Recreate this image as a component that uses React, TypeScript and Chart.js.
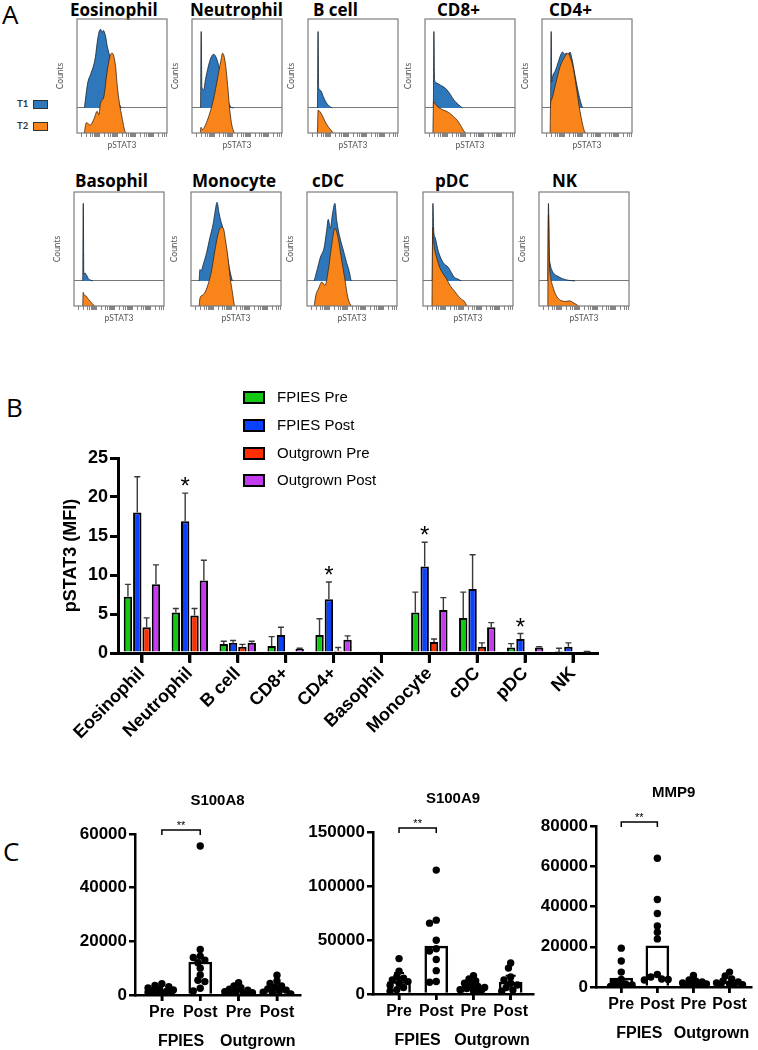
import React, { useEffect, useRef } from 'react';
import { Chart, registerables } from 'chart.js';

Chart.register(...registerables);

const SANS = '"Liberation Sans", Arial, Helvetica, sans-serif';
const OPEN = '"Open Sans", "Liberation Sans", sans-serif';
const LATO = 'Lato, "Liberation Sans", sans-serif';

/* ---------------- Panel A: pSTAT3 offset histograms ---------------- */
const HIST_CELLS = ['Eosinophil', 'Neutrophil', 'B cell', 'CD8+', 'CD4+', 'Basophil', 'Monocyte', 'cDC', 'pDC', 'NK'];
const HIST_SERIES = ['T1', 'T2'];
const HIST_AXIS_X = 'pSTAT3';
const HIST_AXIS_Y = 'Counts';
const HIST_OFFSET = 22; // T1 trace is drawn on an offset baseline
// [pSTAT3 position (% of axis), counts (% of frame height)]
const EOS_T1 = [[8.2, 0], [9.3, 7], [11.9, 22], [14.9, 29], [18.7, 38], [20.5, 45], [22.4, 57], [24.3, 66], [26.1, 69], [28, 66], [29.1, 68], [31.7, 63], [33.6, 54], [37.3, 42], [41, 22], [44.8, 7], [49.3, 0]];
const EOS_T2 = [[8.2, 0], [8.5, 2], [10.4, 9], [14.9, 7], [18.7, 12], [22.4, 19], [24.3, 16], [26.1, 26], [29.9, 32], [32.8, 50], [35.4, 63], [37.3, 69], [39.2, 70], [41, 67], [42.9, 58], [44.8, 41], [46.6, 29], [50.4, 12], [53, 2], [54.1, 0]];
const NEU_T1 = [[9.5, 0], [10.2, 67], [11, 18], [13, 16], [15, 25], [18, 36], [21, 44], [24, 47], [27, 44], [30, 36], [34, 23], [38, 10], [43, 1], [46, 0]];
const NEU_T2 = [[9.2, 0], [10, 5], [11.5, 3], [13, 4], [16, 9], [20, 18], [24, 30], [27, 42], [30, 55], [32, 63], [34, 70], [36, 66], [38, 55], [40, 38], [42, 20], [44, 8], [46, 2], [47, 0]];
const BCELL_T1 = [[10.5, 0], [11.2, 67], [11.8, 18], [13, 16], [15, 14], [17, 10], [20, 5], [23, 2], [27, 0]];
const BCELL_T2 = [[10.5, 0], [11.2, 20], [13, 19], [16, 15], [19, 10], [22, 6], [25, 3], [28, 0]];
const CD8_T1 = [[9.3, 0], [9.9, 67], [10.6, 25], [12.4, 22], [17, 20], [23, 17], [28, 12], [32, 7], [37, 3], [41.6, 0]];
const CD8_T2 = [[8.8, 0], [9.5, 28], [10.2, 27], [13, 24], [18, 21], [24, 19], [28, 17], [32, 14], [36, 11], [40, 6], [43, 2], [45, 0]];
const CD4_T1 = [[9.5, 0], [10.2, 67], [10.8, 23], [12, 28], [15, 33], [18, 40], [21, 47], [23, 49], [25, 47], [27, 48], [29, 46], [31, 49], [33, 44], [38, 23], [42, 8], [45, 0]];
const CD4_T2 = [[9, 0], [9.5, 25], [10.5, 29], [14.5, 41], [20, 58], [25.5, 67], [29, 70], [31, 67], [34.5, 58], [38, 41], [42, 20], [45, 8], [47, 2], [48.5, 0]];
const BASO_T1 = [[9.7, 0], [10.3, 68], [10.9, 6], [12, 7], [14, 5], [16, 2], [19, 0.5], [21, 0]];
const BASO_T2 = [[9.7, 0], [10.2, 12], [11, 10], [13, 9], [16, 6], [19, 3], [23, 0]];
const MONO_T1 = [[9, 0], [10, 10], [11.2, 9], [13.8, 15], [17.4, 25], [21, 38], [24.6, 50], [26.4, 59], [29, 69], [31, 60], [33, 53], [35.5, 46], [38, 33], [41, 18], [44, 6], [46, 0]];
const MONO_T2 = [[9, 0], [10, 7], [13.8, 10], [19, 19], [22.8, 31], [26.4, 48], [30, 63], [33.7, 69], [36, 68], [38.4, 57], [41, 43], [43.5, 25], [46.4, 10], [48, 1.5], [48.6, 0]];
const CDC_T1 = [[8, 0], [11, 9], [15, 21], [19, 29], [21.8, 44], [23.6, 54], [26, 46], [28, 57], [31, 68], [33, 53], [36, 40], [40, 28], [44, 16], [47, 8], [49, 0]];
const CDC_T2 = [[8, 0], [10, 10], [12.7, 15], [16.4, 21], [20, 18], [23.6, 31], [27, 51], [31, 68], [34.5, 60], [38, 43], [41.8, 25], [45.5, 7], [49, 0]];
const PDC_T1 = [[10.3, 0], [11, 68], [12, 43], [13.5, 38], [17, 26], [22.5, 16], [28, 12], [35, 3], [38, 2], [42.5, 0]];
const PDC_T2 = [[10, 0], [10.8, 69], [12, 55], [15, 43], [19, 33], [22.5, 28], [26, 24], [30, 18], [35, 13], [40, 8], [42.5, 6], [46, 4], [48.7, 0]];
const NK_T1 = [[9.8, 0], [10.5, 68], [11.5, 23], [12.4, 15], [14, 10], [17, 6], [21, 4], [26, 2], [33, 0.5], [40, 0]];
const NK_T2 = [[9.8, 0], [10.5, 80], [11.5, 40], [13, 25], [15, 18], [17, 13], [20, 8], [24, 5], [30, 4], [34, 4.5], [38, 3], [44, 0]];
const HIST_T1 = [EOS_T1, NEU_T1, BCELL_T1, CD8_T1, CD4_T1, BASO_T1, MONO_T1, CDC_T1, PDC_T1, NK_T1];
const HIST_T2 = [EOS_T2, NEU_T2, BCELL_T2, CD8_T2, CD4_T2, BASO_T2, MONO_T2, CDC_T2, PDC_T2, NK_T2];
const HIST_DECADES = [0, 1, 2, 3, 4];
const HIST_MINOR = [1, 2, 3, 4, 5, 6, 7, 8, 9];

/* ---------------- Panel B: pSTAT3 MFI ---------------- */
const CELL_TYPES = ['Eosinophil', 'Neutrophil', 'B cell', 'CD8+', 'CD4+', 'Basophil', 'Monocyte', 'cDC', 'pDC', 'NK'];
const B_SERIES_NAMES = ['FPIES Pre', 'FPIES Post', 'Outgrown Pre', 'Outgrown Post'];
const FPIES_PRE = [7.2, 5.2, 1.15, 0.9, 2.3, 0, 5.2, 4.5, 0.7, 0.1];
const FPIES_PRE_ERR = [8.8, 5.7, 1.5, 2.1, 4.4, 0, 7.8, 7.8, 1.2, 0.6];
const FPIES_POST = [18.0, 16.9, 1.3, 2.3, 6.9, 0, 11.1, 8.2, 1.8, 0.8];
const FPIES_POST_ERR = [22.6, 20.5, 1.6, 3.3, 9.1, 0, 14.2, 12.6, 2.5, 1.3];
const OUT_PRE = [3.3, 4.8, 0.8, 0, 0.3, 0, 1.4, 0.8, 0, 0];
const OUT_PRE_ERR = [4.5, 5.7, 1.1, 0, 0.7, 0, 1.8, 1.3, 0, 0];
const OUT_POST = [8.8, 9.3, 1.3, 0.5, 1.7, 0, 5.5, 3.3, 0.7, 0.05];
const OUT_POST_ERR = [11.3, 11.9, 1.5, 0.6, 2.2, 0, 7.1, 3.9, 0.8, 0.2];
const POST_SIGNIF = ['', '*', '', '', '*', '', '*', '', '*', ''];
const B_Y_TITLE = 'pSTAT3 (MFI)';

/* ---------------- Panel C: serum proteins ---------------- */
const C_CATEGORIES = ['Pre', 'Post', 'Pre', 'Post'];
const C_GROUPS = ['FPIES', 'Outgrown'];
const C_BRACKET_LABEL = '**';
const S100A8_MEAN = [2000, 12300, 1600, 2600];
const S100A8_ERR = [null, null, null, 3600];
const S100A8_POINTS = [
  [4200, 3600, 3100, 2600, 2200, 1900, 1600, 1300, 1000, 700, 500, 300],
  [55500, 17000, 14500, 14000, 13000, 12000, 10000, 7500, 5500, 5000, 2500, 1500],
  [4600, 3400, 2700, 2200, 1800, 1500, 1200, 900, 700, 500, 300],
  [7400, 5200, 4300, 3400, 2800, 2300, 1800, 1400, 1000, 700, 400],
];
const S100A9_MEAN = [11600, 44400, 7000, 11000];
const S100A9_ERR = [19500, null, null, 17000];
const S100A9_POINTS = [
  [32800, 21000, 16000, 14700, 13100, 11500, 10000, 8000, 6000, 4000, 2500],
  [114700, 68400, 65600, 49700, 41900, 39700, 31900, 21600, 11600, 10900],
  [17000, 14000, 12000, 10000, 8500, 7000, 6000, 5000, 4000, 3000, 2000],
  [28700, 24000, 15700, 13000, 10000, 8300, 6000, 3700, 2500],
];
const MMP9_MEAN = [4400, 20500, 2000, 2700];
const MMP9_ERR = [null, null, null, null];
const MMP9_POINTS = [
  [19300, 12900, 7400, 3700, 2500, 1500, 1000, 600, 300, 100],
  [64000, 43500, 36500, 30300, 27200, 23900, 6200, 5000, 4000, 3700, 3500],
  [5700, 3500, 3000, 2500, 2000, 1500, 1000, 800, 500, 300],
  [7400, 5500, 4000, 3000, 2500, 2000, 1500, 1200, 800, 500],
];

/* ---------------- styling ---------------- */
const BLUE_T1 = '#2e77ba';
const ORANGE_T2 = '#f98419';
const B_COLORS = ['#12c812', '#0a40ff', '#ff2e00', '#c43cf0'];

const HIST_TICK_POS: number[] = [];
HIST_DECADES.forEach((d) => HIST_MINOR.forEach((k) => {
  const p = 5 + (d + Math.log10(k)) * 20;
  if (p <= 99.5) HIST_TICK_POS.push(p);
}));

const framePlugin = {
  id: 'frame',
  afterDatasetsDraw(chart: any) {
    const { ctx, chartArea } = chart;
    ctx.save();
    ctx.strokeStyle = '#7c7c7c';
    ctx.lineWidth = 1.2;
    ctx.strokeRect(chartArea.left, chartArea.top, chartArea.right - chartArea.left, chartArea.bottom - chartArea.top);
    ctx.restore();
  },
};

function histConfig(idx: number): any {
  const t1 = HIST_T1[idx];
  const t2 = HIST_T2[idx];
  return {
    type: 'line',
    data: {
      datasets: [
        {
          label: HIST_SERIES[1],
          data: t2.map(([x, y]) => ({ x, y })),
          borderColor: '#3a2412', borderWidth: 0.8,
          backgroundColor: ORANGE_T2, fill: 'origin',
          pointRadius: 0, cubicInterpolationMode: 'monotone',
        },
        {
          label: HIST_SERIES[0],
          data: t1.map(([x, y]) => ({ x, y: y + HIST_OFFSET })),
          borderColor: '#18232e', borderWidth: 0.8,
          backgroundColor: BLUE_T1, fill: { value: HIST_OFFSET },
          pointRadius: 0, cubicInterpolationMode: 'monotone',
        },
      ],
    },
    options: {
      animation: false, responsive: false, maintainAspectRatio: false, events: [],
      layout: { padding: { top: 2, right: 2, left: 0, bottom: 0 } },
      plugins: { legend: { display: false }, tooltip: { enabled: false } },
      scales: {
        x: {
          type: 'linear', min: 0, max: 100,
          afterBuildTicks: (a: any) => { a.ticks = HIST_TICK_POS.map((v) => ({ value: v })); },
          ticks: { display: false },
          grid: { drawOnChartArea: false, tickLength: 4, color: '#666', lineWidth: 0.8 },
          border: { display: false },
          title: { display: true, text: HIST_AXIS_X, color: '#555', font: { family: LATO, size: 8.5 }, padding: 0 },
          afterFit: (a: any) => { a.height = 17; },
        },
        y: {
          type: 'linear', min: 0, max: 100,
          afterBuildTicks: (a: any) => { a.ticks = [{ value: HIST_OFFSET }]; },
          ticks: { display: false },
          grid: { color: '#777', lineWidth: 1, drawTicks: false },
          border: { display: false },
          title: { display: true, text: HIST_AXIS_Y, color: '#555', font: { family: LATO, size: 8.5 }, padding: 0 },
          afterFit: (a: any) => { a.width = 22; },
        },
      },
    },
    plugins: [framePlugin],
  };
}

const B_VALUES = [FPIES_PRE, FPIES_POST, OUT_PRE, OUT_POST];
const B_ERRS = [FPIES_PRE_ERR, FPIES_POST_ERR, OUT_PRE_ERR, OUT_POST_ERR];

/* draws category tick marks explicitly below an axis */
function drawAxisTicks(ctx: any, scale: any, values: number[], len: number, width: number) {
  ctx.save();
  ctx.strokeStyle = '#000';
  ctx.lineWidth = width;
  ctx.beginPath();
  values.forEach((v) => {
    const x = scale.getPixelForValue(v);
    ctx.moveTo(x, scale.top);
    ctx.lineTo(x, scale.top + len);
  });
  ctx.stroke();
  ctx.restore();
}

const barErrorPlugin = {
  id: 'barErrors',
  afterDatasetsDraw(chart: any) {
    const { ctx } = chart;
    const ys = chart.scales.y;
    ctx.save();
    ctx.strokeStyle = '#3a3a3a';
    ctx.lineWidth = 1.4;
    B_VALUES.forEach((vals, i) => {
      const meta = chart.getDatasetMeta(i);
      meta.data.forEach((el: any, j: number) => {
        const top = B_ERRS[i][j];
        if (!(top > vals[j])) return;
        const yt = ys.getPixelForValue(top);
        ctx.beginPath();
        ctx.moveTo(el.x, el.y);
        ctx.lineTo(el.x, yt);
        ctx.moveTo(el.x - 3, yt);
        ctx.lineTo(el.x + 3, yt);
        ctx.stroke();
      });
    });
    ctx.fillStyle = '#000';
    ctx.font = `24px ${SANS}`;
    ctx.textAlign = 'center';
    ctx.textBaseline = 'alphabetic';
    const meta = chart.getDatasetMeta(1);
    POST_SIGNIF.forEach((s, j) => {
      if (!s) return;
      const el = meta.data[j];
      const yt = ys.getPixelForValue(FPIES_POST_ERR[j]);
      ctx.fillText(s, el.x, yt + 1);
    });
    ctx.restore();
    drawAxisTicks(ctx, chart.scales.x, CELL_TYPES.map((_, i) => i), 10, 3);
  },
};

function barConfig(): any {
  return {
    type: 'bar',
    data: {
      labels: CELL_TYPES,
      datasets: B_VALUES.map((vals, i) => ({
        label: B_SERIES_NAMES[i],
        data: vals,
        backgroundColor: B_COLORS[i],
        borderColor: '#000',
        borderWidth: 2,
        categoryPercentage: 0.78,
        barPercentage: 0.9,
      })),
    },
    options: {
      animation: false, responsive: false, maintainAspectRatio: false, events: [],
      layout: { padding: { top: 18, right: 23, left: 0, bottom: 0 } },
      plugins: { legend: { display: false }, tooltip: { enabled: false } },
      scales: {
        x: {
          grid: { offset: false, drawOnChartArea: false, tickLength: 9, lineWidth: 3, color: '#000' },
          border: { width: 3, color: '#000' },
          ticks: { minRotation: 45, maxRotation: 45, autoSkip: false, color: '#000', padding: 1, font: { family: SANS, size: 18, weight: 'bold' } },
          afterFit: (a: any) => { a.height = 97; },
        },
        y: {
          min: 0, max: 25,
          ticks: { stepSize: 5, color: '#000', padding: 2, font: { family: SANS, size: 18, weight: 'bold' } },
          grid: { drawOnChartArea: false, tickLength: 8, lineWidth: 3, color: '#000' },
          border: { width: 3, color: '#000' },
          title: { display: true, text: B_Y_TITLE, color: '#000', font: { family: SANS, size: 18, weight: 'bold' }, padding: { top: 60, bottom: 0 } },
          afterFit: (a: any) => { a.width = 118; },
        },
      },
    },
    plugins: [barErrorPlugin],
  };
}

/* beeswarm-style horizontal spreading of dots (layout only) */
function swarm(values: number[], max: number): number[] {
  const pxPerUnitX = 38;
  const pxPerVal = 161 / max;
  const placed: { x: number; y: number }[] = [];
  const res = new Array(values.length).fill(0);
  const order = values.map((_, i) => i).sort((a, b) => values[b] - values[a]);
  for (const i of order) {
    const y = values[i] * pxPerVal;
    let chosen = 0;
    let bestD = -1;
    for (let k = 0; k < 13; k++) {
      const off = k === 0 ? 0 : (k % 2 ? -1 : 1) * Math.ceil(k / 2) * 0.06;
      const xp = off * pxPerUnitX;
      const d = placed.length ? Math.min(...placed.map((p) => (p.x - xp) ** 2 + (p.y - y) ** 2)) : 1e9;
      if (d >= 30) { chosen = off; bestD = d; break; }
      if (d > bestD) { bestD = d; chosen = off; }
    }
    placed.push({ x: chosen * pxPerUnitX, y });
    res[i] = chosen;
  }
  return res;
}

const C_XMIN = -0.7;
const C_XMAX = 3.6;

function dotConfig(title: string, max: number, step: number, means: number[], errs: (number | null)[], points: number[][], yWidth: number, padTop: number, padRight: number): any {
  const pts: { x: number; y: number }[] = [];
  points.forEach((vals, g) => {
    const offs = swarm(vals, max);
    vals.forEach((v, i) => pts.push({ x: g + offs[i], y: v }));
  });
  const plugin = {
    id: 'dotExtras',
    afterDatasetsDraw(chart: any) {
      const { ctx, chartArea } = chart;
      const xs = chart.scales.x;
      const ys = chart.scales.y;
      ctx.save();
      // error bars
      ctx.strokeStyle = '#000';
      ctx.lineWidth = 2;
      means.forEach((m, i) => {
        const e = errs[i];
        if (e == null) return;
        const x = xs.getPixelForValue(i);
        const y0 = ys.getPixelForValue(m);
        const y1 = ys.getPixelForValue(e);
        ctx.beginPath();
        ctx.moveTo(x, y0); ctx.lineTo(x, y1);
        ctx.moveTo(x - 5, y1); ctx.lineTo(x + 5, y1);
        ctx.stroke();
      });
      // significance bracket
      const x0 = xs.getPixelForValue(0);
      const x1 = xs.getPixelForValue(1);
      const yl = chartArea.top - 4;
      ctx.lineWidth = 1.5;
      ctx.beginPath();
      ctx.moveTo(x0, yl + 5); ctx.lineTo(x0, yl); ctx.lineTo(x1, yl); ctx.lineTo(x1, yl + 5);
      ctx.stroke();
      ctx.fillStyle = '#000';
      ctx.textAlign = 'center';
      ctx.font = `11px ${SANS}`;
      ctx.textBaseline = 'alphabetic';
      ctx.fillText(C_BRACKET_LABEL, (x0 + x1) / 2, yl - 1);
      // title
      ctx.font = `bold 15px ${SANS}`;
      ctx.textBaseline = 'middle';
      ctx.fillText(title, (chartArea.left + chartArea.right) / 2, chartArea.top - 33);
      ctx.restore();
      drawAxisTicks(ctx, xs, C_CATEGORIES.map((_, i) => i), 6, 2.5);
    },
  };
  const tickFont = { family: SANS, size: 16, weight: 'bold' };
  return {
    type: 'bar',
    data: {
      datasets: [
        { type: 'scatter', label: title, data: pts, backgroundColor: '#000', borderColor: '#000', pointRadius: 3.7, borderWidth: 0 },
        { type: 'bar', label: title + ' mean', data: means.map((m, i) => ({ x: i, y: m })), backgroundColor: '#fff', borderColor: '#000', borderWidth: 2.5, barThickness: 23 },
      ],
    },
    options: {
      animation: false, responsive: false, maintainAspectRatio: false, events: [],
      layout: { padding: { top: padTop, right: padRight, left: 0, bottom: 0 } },
      plugins: { legend: { display: false }, tooltip: { enabled: false } },
      scales: {
        x: {
          type: 'linear', position: 'bottom', weight: 0, min: C_XMIN, max: C_XMAX, offset: false,
          afterBuildTicks: (a: any) => { a.ticks = C_CATEGORIES.map((_, i) => ({ value: i })); },
          ticks: { callback: (v: number) => C_CATEGORIES[Math.round(v)], autoSkip: false, maxRotation: 0, color: '#000', padding: 2, font: tickFont },
          grid: { offset: false, drawOnChartArea: false, tickLength: 6, lineWidth: 2.5, color: '#000' },
          border: { width: 2.5, color: '#000' },
          afterFit: (a: any) => { a.height = 30; },
        },
        x2: {
          type: 'linear', position: 'bottom', weight: 1, min: C_XMIN, max: C_XMAX, offset: false,
          afterBuildTicks: (a: any) => { a.ticks = [{ value: 0.5 }, { value: 2.5 }]; },
          ticks: { callback: (v: number) => (v < 1.5 ? C_GROUPS[0] : C_GROUPS[1]), autoSkip: false, maxRotation: 0, color: '#000', padding: 7, font: tickFont },
          grid: { display: false, drawTicks: false },
          border: { display: false },
          afterFit: (a: any) => { a.height = 25; },
        },
        y: {
          type: 'linear', min: 0, max,
          ticks: { stepSize: step, callback: (v: number) => String(v), color: '#000', padding: 2, font: { family: SANS, size: 17, weight: 'bold' } },
          grid: { drawOnChartArea: false, tickLength: 6, lineWidth: 2.5, color: '#000' },
          border: { width: 2.5, color: '#000' },
          afterFit: (a: any) => { a.width = yWidth; },
        },
      },
    },
    plugins: [plugin],
  };
}

function ChartCanvas({ left, top, width, height, make }: any) {
  const ref = useRef<HTMLCanvasElement | null>(null);
  useEffect(() => {
    if (!ref.current) return;
    const chart = new Chart(ref.current, make());
    return () => chart.destroy();
  }, []);
  return <canvas ref={ref} width={width} height={height} style={{ position: 'absolute', left, top, width, height }} />;
}

const abs = (left: number, top: number, extra: any = {}) => ({ position: 'absolute' as const, left, top, whiteSpace: 'nowrap' as const, ...extra });

export default function App() {
  const frameLefts = [77, 192, 308, 425, 542, 74, 191, 307, 423, 539];
  const frameTops = [19, 19, 19, 19, 19, 192, 192, 192, 192, 192];
  const titleLefts = [70, 190, 313, 437, 549, 75, 192, 312, 435, 552];
  const titleTops = [1, 1, 1, 1, 1, 172, 172, 172, 172, 172];
  const letterStyle = { fontFamily: OPEN, fontSize: 26, lineHeight: 1, color: '#000' };
  const legendRows = [397, 425, 453, 480];
  return (
    <div style={{ position: 'absolute', left: 0, top: 0, width: 758, height: 1050, background: '#fff', overflow: 'hidden' }}>
      {/* Panel A */}
      <div style={abs(2, 0.5, letterStyle)}>A</div>
      {HIST_CELLS.map((name, i) => (
        <div key={'t' + i} style={abs(titleLefts[i], titleTops[i], { fontFamily: OPEN, fontWeight: 700, fontSize: 17, lineHeight: 1, color: '#000' })}>{name}</div>
      ))}
      {HIST_CELLS.map((_, i) => (
        <ChartCanvas key={'h' + i} left={frameLefts[i] - 22} top={frameTops[i] - 2} width={114} height={133} make={() => histConfig(i)} />
      ))}
      {HIST_SERIES.map((s, i) => (
        <React.Fragment key={'lg' + i}>
          <div style={abs(17, 99 + i * 22, { fontFamily: LATO, fontWeight: 700, fontSize: 9.5, lineHeight: '10px', color: '#2d3540' })}>{s}</div>
          <div style={abs(33, 100 + i * 22, { width: 15, height: 9, background: i === 0 ? BLUE_T1 : ORANGE_T2, border: '1px solid #333', boxSizing: 'border-box' })} />
        </React.Fragment>
      ))}

      {/* Panel B */}
      <div style={abs(6, 393.5, letterStyle)}>B</div>
      <ChartCanvas left={0} top={440} width={620} height={310} make={barConfig} />
      {B_SERIES_NAMES.map((n, i) => (
        <React.Fragment key={'bl' + i}>
          <div style={abs(243, legendRows[i] - 6.5, { width: 22, height: 13, background: B_COLORS[i], border: '2px solid #000', boxSizing: 'border-box' })} />
          <div style={abs(277, legendRows[i] - 9, { fontFamily: SANS, fontSize: 15, lineHeight: '18px', color: '#000' })}>{n}</div>
        </React.Fragment>
      ))}

      {/* Panel C */}
      <div style={abs(3, 837.5, letterStyle)}>C</div>
      <ChartCanvas left={40} top={780} width={270} height={270} make={() => dotConfig('S100A8', 60000, 20000, S100A8_MEAN, S100A8_ERR, S100A8_POINTS, 95, 54, 10)} />
      <ChartCanvas left={290} top={780} width={251} height={269} make={() => dotConfig('S100A9', 150000, 50000, S100A9_MEAN, S100A9_ERR, S100A9_POINTS, 83, 52, 8)} />
      <ChartCanvas left={530} top={780} width={228} height={262} make={() => dotConfig('MMP9', 80000, 20000, MMP9_MEAN, MMP9_ERR, MMP9_POINTS, 66, 46, 0)} />
    </div>
  );
}
